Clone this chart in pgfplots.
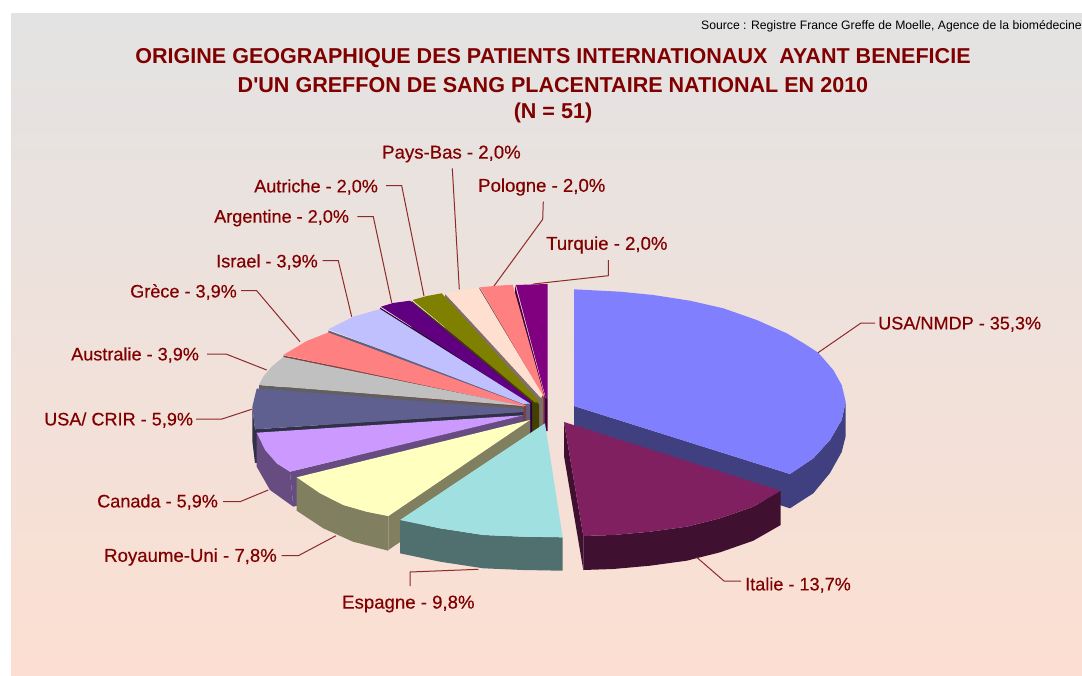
\documentclass[border=0pt]{standalone}
\usepackage{fontspec}
\setmainfont{Liberation Sans}
\newfontfamily\labfont[FakeBold=0.4]{Liberation Sans}
\usepackage{pgfplots}
\pgfplotsset{compat=1.18}
\definecolor{titre}{HTML}{800000}
\definecolor{ligne}{HTML}{8E2A2A}
\definecolor{fond}{RGB}{252,223,210}
\definecolor{usaT}{HTML}{8080FF}\definecolor{usaS}{HTML}{404080}
\definecolor{itaT}{HTML}{802060}\definecolor{itaS}{HTML}{401030}
\definecolor{espT}{HTML}{A0E0E0}\definecolor{espS}{HTML}{507070}
\definecolor{royT}{HTML}{FFFFC0}\definecolor{royS}{HTML}{808060}
\definecolor{canT}{HTML}{CC99FF}\definecolor{canS}{HTML}{664C80}
\definecolor{crirT}{HTML}{606090}\definecolor{crirS}{HTML}{303048}
\definecolor{ausT}{HTML}{C0C0C0}\definecolor{ausS}{HTML}{606060}
\definecolor{greT}{HTML}{FF8080}\definecolor{greS}{HTML}{804040}
\definecolor{isrT}{HTML}{C0C0FF}\definecolor{isrS}{HTML}{606080}
\definecolor{argT}{HTML}{600080}\definecolor{argS}{HTML}{300040}
\definecolor{autT}{HTML}{808000}\definecolor{autS}{HTML}{404000}
\definecolor{payT}{HTML}{FFE0D0}\definecolor{payS}{HTML}{807068}
\definecolor{polT}{HTML}{FF8080}\definecolor{polS}{HTML}{804040}
\definecolor{turT}{HTML}{800080}\definecolor{turS}{HTML}{400040}
\pgfplotsset{
  part/.style={fill=#1,draw=none,mark=none},
  lead/.style={color=ligne,line width=1pt,mark=none},
}
\tikzset{
  lab/.style={anchor=west,inner sep=0,font=\labfont\fontsize{18.6}{18.6}\selectfont,text=titre},
  labs/.style={anchor=west,inner sep=0,font=\labfont\fontsize{18.1}{18.1}\selectfont,text=titre},
  ttl/.style={font=\fontsize{21.55}{21.55}\selectfont\bfseries,text=titre},
}
\begin{document}
\begin{tikzpicture}
\begin{axis}[
  width=1082pt,height=675pt,scale only axis,
  xmin=0,xmax=1082,ymin=0,ymax=675,y dir=reverse,
  hide axis,clip=true,
]
% white page, then background
\addplot[part=white] coordinates {(0,0) (1082,0) (1082,675) (0,675)} --cycle;
\addplot[top color=black!11,bottom color=fond,draw=none,mark=none]
  coordinates {(11,13) (1082,13) (1082,675) (11,675)} --cycle;

% USA/NMDP
\addplot[part=usaS] coordinates {(574,406) (790,474) (790,508.3) (574,440)} --cycle;
\addplot[part=usaS] coordinates {(845.7,401.7) (841.7,420) (830,440) (813.3,458.3) (790,474) (790,508.3) (813.3,493.3) (830,473) (841.7,452) (845.7,436)} --cycle;
\addplot[part=usaT] coordinates {(574,406) (574,289.3) (620,291.7) (653.3,295) (690,300.7) (723.3,308.3) (756.7,320) (786.7,333.3) (804,343.5) (818.3,352.7) (833.3,370) (841.7,385) (845.7,401.7) (841.7,420) (830,440) (813.3,458.3) (790,474)} --cycle;
% Italie
\addplot[part=itaS] coordinates {(564,422) (583.3,536) (583.3,570) (564,456)} --cycle;
\addplot[part=itaS] coordinates {(780.7,490.7) (753.3,506.7) (720,518.3) (686.7,526.7) (650,531.7) (613.3,535) (583.3,536) (583.3,570) (613.3,569) (650,565.7) (686.7,560.7) (720,552.3) (753.3,540.7) (780.7,525)} --cycle;
\addplot[part=itaT] coordinates {(564,422) (780.7,490.7) (753.3,506.7) (720,518.3) (686.7,526.7) (650,531.7) (613.3,535) (583.3,536)} --cycle;

% Turquie
\addplot[part=turS] coordinates {(515,285) (545,397) (547.5,399) (547.5,431) (545,431) (515,319)} --cycle;
\addplot[part=turT] coordinates {(516,285) (531,284.5) (547.5,284) (547.5,399) (545.5,397)} --cycle;
% Pologne
\addplot[part=polS] coordinates {(479.3,287.3) (544.5,396) (544.5,430) (479.3,321)} --cycle;
\addplot[part=polT] coordinates {(480,287.3) (496,285.8) (512.7,284.7) (544,395) (543.5,397)} --cycle;
% Pays-Bas
\addplot[part=payS] coordinates {(445,294) (543,398) (543,432) (445,328)} --cycle;
\addplot[part=payT] coordinates {(445,293.3) (462,290) (478.5,287.5) (542.7,395) (541,398)} --cycle;
% Autriche
\addplot[part=autS] coordinates {(411.7,301) (539,404) (539,438) (411.7,335)} --cycle;
\addplot[part=autT] coordinates {(412.5,300) (427,296) (441.7,293.3) (539.3,401.7) (535,402.5)} --cycle;
% Argentine
\addplot[part=argS] coordinates {(380,307.5) (532,403) (532,437) (380,341.5)} --cycle;
\addplot[part=argT] coordinates {(381,306.7) (393,303) (410,300.7) (531.7,401.7) (527,402)} --cycle;
% Israel
\addplot[part=isrS] coordinates {(328.3,330.5) (530,403) (530,437) (328.3,364.5)} --cycle;
\addplot[part=isrT] coordinates {(380,309) (353.3,316.7) (328.3,329.3) (523.3,404) (530,403.5)} --cycle;
% Grece
\addplot[part=greS] coordinates {(283.3,355.5) (526,405) (526,439) (283.3,389.5)} --cycle;
\addplot[part=greT] coordinates {(328.3,332.5) (306.7,341) (283.3,355) (523.3,406.5) (526,405.5)} --cycle;
% Australie
\addplot[part=ausS] coordinates {(259,385) (523.3,407) (523.3,441) (259,419)} --cycle;
\addplot[part=ausT] coordinates {(283.3,357) (271.7,366.7) (263.3,376.7) (259,385) (523.3,406)} --cycle;
% USA/ CRIR
\addplot[part=crirS] coordinates {(252.3,406.7) (255,429.3) (523.3,412) (523.3,446) (255,463) (252.3,440.7)} --cycle;
\addplot[part=crirT] coordinates {(256.7,388.5) (252.3,406.7) (255,429.3) (523.3,412) (523.3,409.3)} --cycle;
% Canada
\addplot[part=canS] coordinates {(523.3,415.3) (290,471.7) (293.3,506.7) (523.3,450)} --cycle;
\addplot[part=canS] coordinates {(256.7,432.7) (265,450) (276.7,463.3) (290,471.7) (293.3,506.7) (270,490) (256.7,466.7)} --cycle;
\addplot[part=canT] coordinates {(256.7,432.7) (265,450) (276.7,463.3) (290,471.7) (523.3,415.3)} --cycle;
% Royaume-Uni
\addplot[part=royS] coordinates {(530,420) (388.3,516) (388.3,550) (530,454)} --cycle;
\addplot[part=royS] coordinates {(296.7,477.3) (320,493.3) (343.3,505) (366.7,511.7) (388.3,516) (388.3,550.7) (353,541.7) (323.3,528.3) (296.7,510.7)} --cycle;
\addplot[part=royT] coordinates {(296.7,477.3) (320,493.3) (343.3,505) (366.7,511.7) (388.3,516) (530,420)} --cycle;
% Espagne
\addplot[part=espS] coordinates {(400,520) (440,528.3) (483.3,535) (523.3,536.7) (562.7,537.3) (562.7,570.7) (523.3,570) (483.3,568.3) (440,561.7) (400,553.3)} --cycle;
\addplot[part=espT] coordinates {(545,423.3) (562.7,537.3) (523.3,536.7) (483.3,535) (440,528.3) (400,520)} --cycle;

% leader lines
\addplot[lead] coordinates {(818,352.7) (861,323) (875,323)};
\addplot[lead] coordinates {(696.7,557.3) (724,581) (741,581)};
\addplot[lead] coordinates {(478.3,569.3) (410,572) (410,586)};
\addplot[lead] coordinates {(281.7,555.7) (298.3,555.7) (336,535.7)};
\addplot[lead] coordinates {(223,501.7) (240,501.7) (268.3,490)};
\addplot[lead] coordinates {(196,419) (222,419) (251.7,409.3)};
\addplot[lead] coordinates {(207,354) (226,354) (266.7,370)};
\addplot[lead] coordinates {(241,290.7) (256.7,290.7) (300,341.7)};
\addplot[lead] coordinates {(322.7,260.7) (338.3,260.7) (351.7,316.7)};
\addplot[lead] coordinates {(357.3,216.7) (373.3,216.7) (391.7,302.7)};
\addplot[lead] coordinates {(386,185.7) (401.7,185.7) (424,296)};
\addplot[lead] coordinates {(452.3,168.3) (459.3,289.3)};
\addplot[lead] coordinates {(543.3,201.7) (542.7,219.3) (494,286)};
\addplot[lead] coordinates {(608.3,260) (608.3,275.7) (533.3,284)};

% titles
\node[anchor=east,inner sep=0,font=\fontsize{12.2}{12.2}\selectfont,text=black] at (1082,26) {Source : Registre France Greffe de Moelle, Agence de la biomédecine};
\node[ttl] at (553,58) {ORIGINE GEOGRAPHIQUE DES PATIENTS INTERNATIONAUX\ \ AYANT BENEFICIE};
\node[ttl] at (553,85) {D\textquotesingle UN GREFFON DE SANG PLACENTAIRE NATIONAL EN 2010};
\node[ttl] at (553,113) {(N = 51)};

% slice labels
\node[labs] at (878,324) {USA/NMDP - 35,3\%};
\node[labs] at (745,585) {Italie - 13,7\%};
\node[lab] at (342,604) {Espagne - 9,8\%};
\node[lab] at (104,557) {Royaume-Uni - 7,8\%};
\node[labs] at (97,502) {Canada - 5,9\%};
\node[labs] at (44,420) {USA/ CRIR - 5,9\%};
\node[labs] at (71,355) {Australie - 3,9\%};
\node[labs] at (130,292) {Grèce - 3,9\%};
\node[labs] at (216,262) {Israel - 3,9\%};
\node[labs] at (214,218) {Argentine - 2,0\%};
\node[labs] at (254,187) {Autriche - 2,0\%};
\node[lab] at (382,154) {Pays-Bas - 2,0\%};
\node[lab] at (478,187) {Pologne - 2,0\%};
\node[lab] at (546,245) {Turquie - 2,0\%};
\end{axis}
\end{tikzpicture}
\end{document}
